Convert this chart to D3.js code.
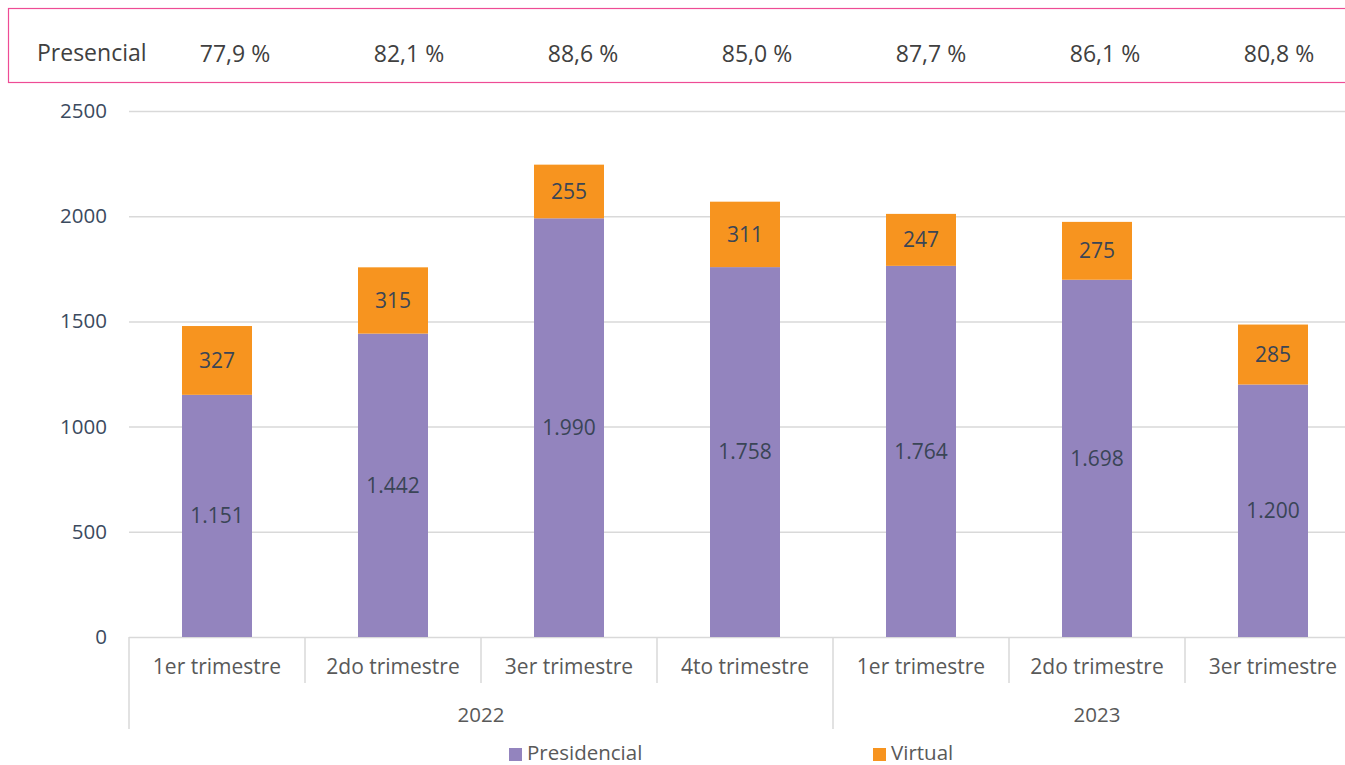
<!DOCTYPE html>
<html>
<head>
<meta charset="utf-8">
<script src="https://cdn.jsdelivr.net/npm/d3@7"></script>
<style>
  body { margin: 0; background: #fff; }
  svg { display: block; font-family: "Open Sans", sans-serif; }
</style>
</head>
<body>
<div id="chart"></div>
<script>
(function() {

  var width = 1345;
  var height = 765;

  // data
  var categories = ["1er trimestre", "2do trimestre", "3er trimestre", "4to trimestre",
                    "1er trimestre", "2do trimestre", "3er trimestre"];
  var years = ["2022", "2022", "2022", "2022", "2023", "2023", "2023"];
  var presidencial = [1151, 1442, 1990, 1758, 1764, 1698, 1200];
  var virtual = [327, 315, 255, 311, 247, 275, 285];
  var presencialPct = ["77,9 %", "82,1 %", "88,6 %", "85,0 %", "87,7 %", "86,1 %", "80,8 %"];
  var yTicks = [0, 500, 1000, 1500, 2000, 2500];
  var seriesNames = ["Presidencial", "Virtual"];
  var colors = ["#9384BE", "#F7941F"];

  var margin = {top: 111, left: 129, bottom: 128};
  var plotRight = 1361;

  var svg = d3.select("#chart")
    .append("svg")
    .attr("width", width)
    .attr("height", height);

  var idx = d3.range(categories.length);

  var x = d3.scaleBand()
    .domain(idx)
    .range([margin.left, plotRight])
    .paddingInner(0)
    .paddingOuter(0);

  var y = d3.scaleLinear()
    .domain([0, 2500])
    .range([height - margin.bottom, margin.top]);

  // top table box
  svg.append("rect")
    .attr("x", 8.5).attr("y", 8.5)
    .attr("width", 1345).attr("height", 74)
    .attr("fill", "none")
    .attr("stroke", "#EE4C95")
    .attr("stroke-width", 1.2);

  svg.append("text")
    .attr("x", 37).attr("y", 53)
    .attr("dy", "0.35em")
    .attr("font-size", 23)
    .attr("fill", "#404040")
    .text("Presencial");

  var tableX = d3.scalePoint().domain(idx).range([235, 1279]);

  svg.selectAll(".pct")
    .data(presencialPct)
    .enter().append("text")
    .attr("class", "pct")
    .attr("x", function(d, i) { return tableX(i); })
    .attr("y", 54)
    .attr("dy", "0.35em")
    .attr("text-anchor", "middle")
    .attr("font-size", 23)
    .attr("fill", "#404040")
    .text(function(d) { return d; });

  // grid + y axis
  var yAxis = d3.axisLeft(y)
    .tickValues(yTicks)
    .tickSize(-(plotRight - margin.left))
    .tickPadding(22)
    .tickFormat(d3.format("d"));

  var gy = svg.append("g")
    .attr("transform", "translate(" + margin.left + ",0)")
    .call(yAxis);
  gy.select(".domain").remove();
  gy.selectAll("line").attr("stroke", "#D9D9D9").attr("stroke-width", 1.5);
  gy.selectAll("text")
    .attr("font-size", 20.5)
    .attr("font-family", "Open Sans, sans-serif")
    .attr("fill", "#3B4A5E");

  // stacked bars
  var rows = idx.map(function(i) {
    return {i: i, Presidencial: presidencial[i], Virtual: virtual[i]};
  });
  var stack = d3.stack().keys(seriesNames)(rows);

  var barW = 70;
  var layers = svg.selectAll(".layer")
    .data(stack)
    .enter().append("g")
    .attr("class", "layer")
    .attr("fill", function(d, k) { return colors[k]; });

  layers.selectAll("rect")
    .data(function(d) { return d; })
    .enter().append("rect")
    .attr("x", function(d) { return x(d.data.i) + x.bandwidth() / 2 - barW / 2; })
    .attr("width", barW)
    .attr("y", function(d) { return y(d[1]); })
    .attr("height", function(d) { return y(d[0]) - y(d[1]); });

  var fmt = d3.formatLocale({decimal: ",", thousands: ".", grouping: [3], currency: ["", ""]}).format(",d");

  layers.selectAll(".lbl")
    .data(function(d) { return d; })
    .enter().append("text")
    .attr("class", "lbl")
    .attr("x", function(d) { return x(d.data.i) + x.bandwidth() / 2; })
    .attr("y", function(d) { return y((d[0] + d[1]) / 2); })
    .attr("dy", "0.35em")
    .attr("text-anchor", "middle")
    .attr("font-size", 21)
    .attr("fill", "#3A4556")
    .text(function(d) { return fmt(d[1] - d[0]); });

  // category axis
  var y0 = y(0);
  var xg = svg.append("g");

  xg.selectAll(".cat")
    .data(categories)
    .enter().append("text")
    .attr("class", "cat")
    .attr("x", function(d, i) { return x(i) + x.bandwidth() / 2; })
    .attr("y", y0 + 30)
    .attr("dy", "0.35em")
    .attr("text-anchor", "middle")
    .attr("font-size", 21)
    .attr("fill", "#595959")
    .text(function(d) { return d; });

  // dividers between categories
  xg.selectAll(".div")
    .data(idx)
    .enter().append("line")
    .attr("class", "div")
    .attr("x1", function(i) { return x(i); })
    .attr("x2", function(i) { return x(i); })
    .attr("y1", y0)
    .attr("y2", function(i) {
      return (i === 0 || years[i] !== years[i - 1]) ? y0 + 92 : y0 + 46;
    })
    .attr("stroke", "#D9D9D9")
    .attr("stroke-width", 1.5);

  // year groups
  var yearGroups = Array.from(d3.group(idx, function(i) { return years[i]; }), function(g) {
    return {year: g[0], first: g[1][0], last: g[1][g[1].length - 1]};
  });

  xg.selectAll(".year")
    .data(yearGroups)
    .enter().append("text")
    .attr("class", "year")
    .attr("x", function(d) { return (x(d.first) + x(d.last) + x.bandwidth()) / 2; })
    .attr("y", y0 + 78)
    .attr("dy", "0.35em")
    .attr("text-anchor", "middle")
    .attr("font-size", 20.5)
    .attr("fill", "#595959")
    .text(function(d) { return d.year; });

  // legend
  var legendX = [509, 873];
  var legend = svg.selectAll(".legend")
    .data(seriesNames)
    .enter().append("g")
    .attr("class", "legend")
    .attr("transform", function(d, k) { return "translate(" + legendX[k] + ",753)"; });

  legend.append("rect")
    .attr("x", 0).attr("y", -5)
    .attr("width", 13).attr("height", 13)
    .attr("fill", function(d, k) { return colors[k]; });

  legend.append("text")
    .attr("x", 18)
    .attr("dy", "0.35em")
    .attr("font-size", 20.5)
    .attr("fill", "#595959")
    .text(function(d) { return d; });

})();
</script>
</body>
</html>
